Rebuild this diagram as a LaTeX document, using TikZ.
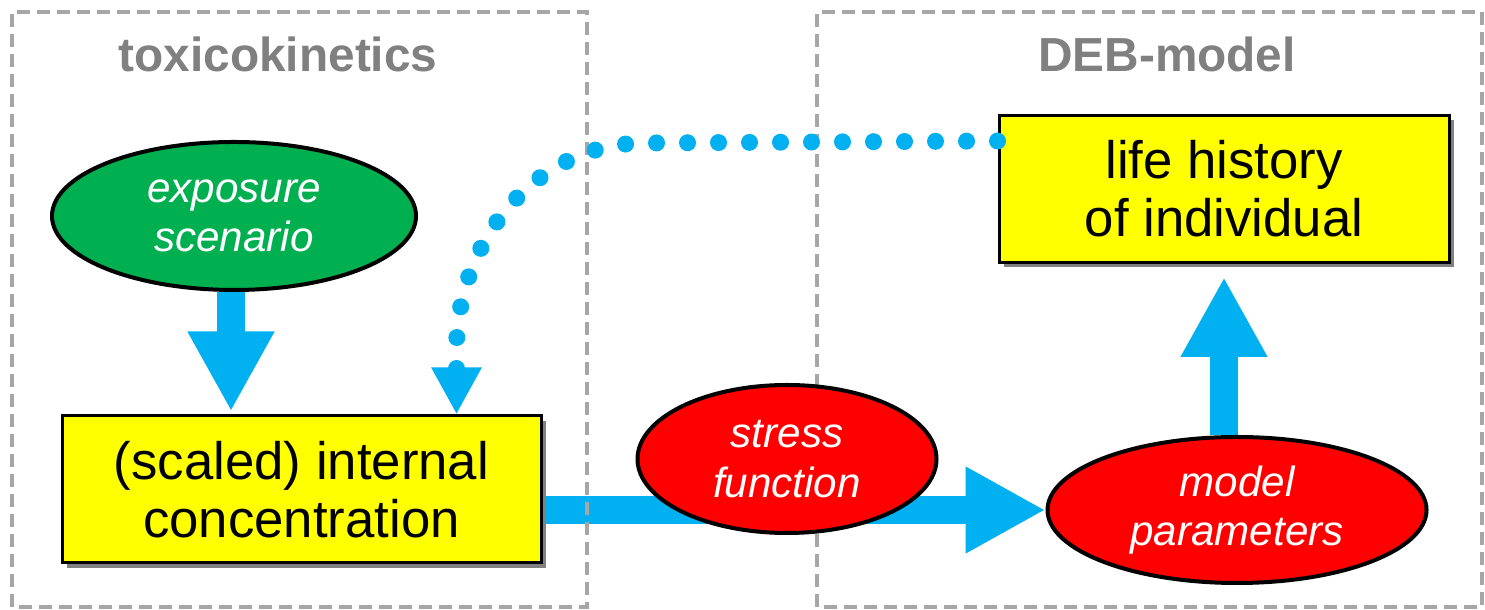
\documentclass[tikz,border=0pt]{standalone}
\usepackage{fontspec}
\setmainfont{Liberation Sans}
\usetikzlibrary{shapes.geometric,arrows.meta,shadows,backgrounds}
\definecolor{debgreen}{HTML}{00B050}
\definecolor{debred}{HTML}{FF0000}
\definecolor{debyellow}{HTML}{FFFF00}
\definecolor{debblue}{HTML}{00B0F0}
\definecolor{framegray}{HTML}{A6A6A6}
\definecolor{titlegray}{HTML}{808080}
\begin{document}
\begin{tikzpicture}[
    frame/.style={draw=framegray,line width=0.04cm,dash pattern=on 0.13cm off 0.07cm},
    title/.style={text=titlegray,font=\fontsize{13.6}{15}\selectfont\bfseries},
    statebox/.style={draw=black,line width=0.03cm,fill=debyellow,align=center,
      minimum height=1.47cm,inner sep=0pt,font=\fontsize{15}{16.5}\selectfont,
      drop shadow={shadow xshift=0.05cm,shadow yshift=-0.05cm,fill=black!50,opacity=1}},
    blob/.style={ellipse,draw=black,line width=0.04cm,align=center,inner sep=0pt,
      text=white,font=\fontsize{12}{14}\selectfont\itshape},
    bigarrow/.style={draw=debblue,line width=0.28cm,
      -{Triangle[width=0.81cm,length=0.8cm]}},
    dotarrow/.style={draw=debblue,line width=0.17cm,line cap=round,
      dash pattern=on 0pt off 0.31cm,-{Triangle[width=0.47cm,length=0.47cm]}}]
  \useasboundingbox (0,0) rectangle (14.85,6.10);
  % frames
  \draw[frame] (0.12,0.03) rectangle (5.87,5.98);
  \draw[frame] (8.17,0.03) rectangle (14.82,5.98);
  \node[title] (tktitle) at (2.78,5.56) {toxicokinetics};
  \node[title] (debtitle) at (11.67,5.56) {DEB-model};
  % states and processes
  \node[blob,fill=debgreen,minimum width=3.64cm,minimum height=1.48cm]
    (expo) at (2.34,3.94) {exposure\\scenario};
  \node[statebox,minimum width=4.79cm] (conc) at (3.015,1.205)
    {(scaled) internal\\concentration};
  \node[statebox,minimum width=4.5cm] (life) at (12.24,4.21)
    {life history\\of individual};
  \node[blob,fill=debred,minimum width=2.99cm,minimum height=1.48cm]
    (stress) at (7.87,1.51) {stress\\function};
  \node[blob,fill=debred,minimum width=3.79cm,minimum height=1.46cm]
    (model) at (12.37,1.00) {model\\parameters};
  \coordinate (feed) at ([yshift=-0.27cm]life.north west);
  \coordinate (back) at ([xshift=3.96cm]conc.north west);
  \begin{scope}[on background layer]
    \draw[bigarrow,shorten >=0.03cm] ([xshift=-0.03cm]expo.south)
      -- ([xshift=-0.03cm]expo.south |- conc.north);
    \draw[bigarrow] (conc.east |- model.west) -- (model.west);
    \draw[bigarrow,shorten >=0.13cm] (life.south |- model.north) -- (life.south);
  \end{scope}
  \draw[dotarrow] (feed) -- (6.45,4.67) to[out=180,in=90] (back |- 0,2.6) -- (back);
\end{tikzpicture}
\end{document}
